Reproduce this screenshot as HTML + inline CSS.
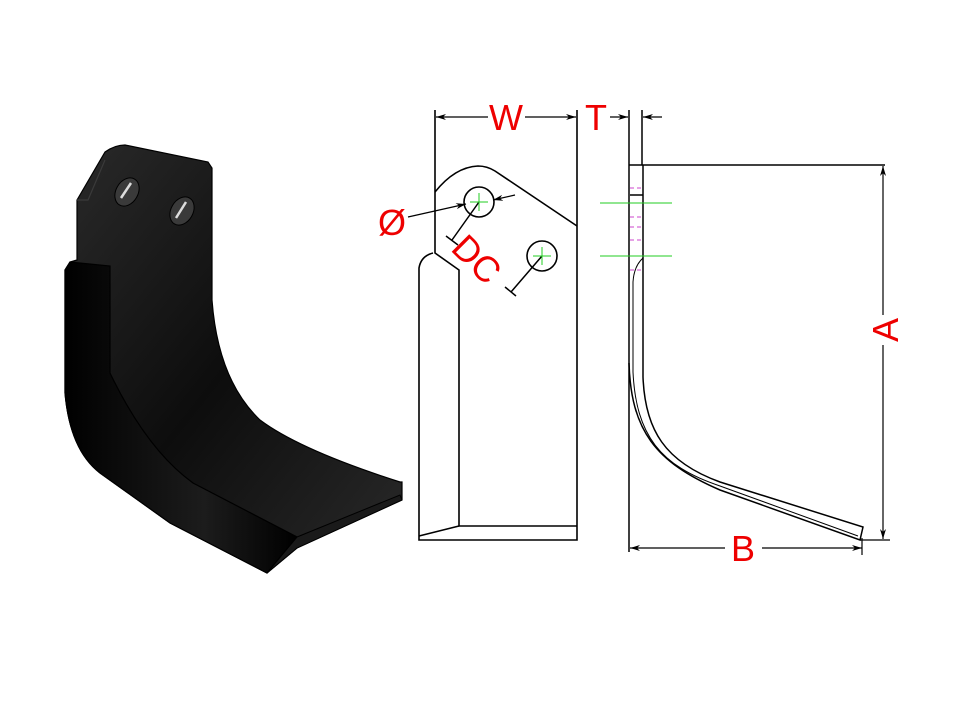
<!DOCTYPE html>
<html><head><meta charset="utf-8"><style>html,body{margin:0;padding:0;background:#fff}svg{display:block}</style></head><body>
<svg width="960" height="720" viewBox="0 0 960 720" xmlns="http://www.w3.org/2000/svg">
<defs>
<linearGradient id="g1" x1="0" y1="0" x2="1" y2="1"><stop offset="0" stop-color="#2a2a2a"/><stop offset="0.5" stop-color="#0d0d0d"/><stop offset="1" stop-color="#2a2a2a"/></linearGradient>
<linearGradient id="g2" x1="0" y1="0" x2="1" y2="0"><stop offset="0" stop-color="#000"/><stop offset="0.6" stop-color="#1c1c1c"/><stop offset="1" stop-color="#000"/></linearGradient>
<marker id="ar" markerWidth="10" markerHeight="6" refX="10" refY="3" orient="auto" markerUnits="userSpaceOnUse"><path d="M0,0 L10,3 L0,6 L3,3 Z" fill="#000"/></marker>
</defs>
<!-- 3D blade -->
<path d="M77,200 L105,152 Q115,145 125,145 L208,162 L212,168 L212,300 Q218,380 260,420 Q300,450 400,482 L402,482 L402,500 L297,548 L267,573 L170,523 L100,473 Q70,450 65,393 L65,270 L70,262 L77,260 Z" fill="url(#g1)" stroke="#000" stroke-width="1.2"/>
<path d="M65,270 L70,262 L110,266 L110,373 Q147,450 193,483 L297,537 L267,573 L170,523 L100,473 Q70,450 65,393 Z" fill="url(#g2)" stroke="#000" stroke-width="1.2"/>
<path d="M297,537 L400,495 L402,500 L297,548 L267,573 Z" fill="#1a1a1a" stroke="#000" stroke-width="1"/>
<path d="M77,200 L88,200 L105,160" fill="none" stroke="#3a3a3a" stroke-width="1.2"/>
<ellipse cx="127" cy="192" rx="11" ry="15" transform="rotate(30 127 192)" fill="#3a3a3a" stroke="#000"/>
<ellipse cx="182" cy="211" rx="11" ry="15" transform="rotate(30 182 211)" fill="#3a3a3a" stroke="#000"/>
<path d="M121,198 L131,183" stroke="#ddd" stroke-width="2.5"/>
<path d="M176,218 L186,202" stroke="#ddd" stroke-width="2.5"/>
<!-- Front view -->
<g fill="none" stroke="#000" stroke-width="1.6">
<path d="M435,110 L435,253 L459,270 L459,526 L577,526"/>
<path d="M435,192 Q455,167 478,166 Q487,166 495,171 L577,226"/>
<path d="M577,110 L577,540 L419,540 L419,268 Q421,256 433,253"/>
<path d="M419,536 L459,526"/>
<circle cx="479" cy="202" r="15"/>
<circle cx="542" cy="256" r="15"/>
<line x1="488" y1="117" x2="436" y2="117" marker-end="url(#ar)" stroke-width="1.2"/>
<line x1="525" y1="117" x2="576" y2="117" marker-end="url(#ar)" stroke-width="1.2"/>
<line x1="408" y1="217" x2="466" y2="204" marker-end="url(#ar)" stroke-width="1.2"/>
<line x1="515" y1="195" x2="493" y2="200" marker-end="url(#ar)" stroke-width="1.2"/>
<path d="M479,202 L452,240 M446,236 L458,245" stroke-width="1.5"/>
<path d="M542,256 L511,292 M505,287 L516,296" stroke-width="1.5"/>
</g>
<g stroke="#2c2" stroke-width="1">
<path d="M470,202 H488 M479,193 V211 M533,256 H551 M542,247 V265"/>
</g>
<!-- Side view -->
<g fill="none" stroke="#000" stroke-width="1.5">
<path d="M629,110 L629,552 M642,110 L642,165"/>
<path d="M629,165 L885,165"/>
<path d="M630,195 H643"/>
<path d="M643,165 L643,377 C645,430 665,462 720,482 L863,527 L860,540 L720,490 C655,462 631,430 629,363"/>
<path d="M633,372 C636,435 660,466 720,486 L858,536" stroke-width="1"/>
<path d="M643,258 Q634,266 633,282 L633,372" stroke-width="1"/>
<line x1="610" y1="117" x2="628" y2="117" marker-end="url(#ar)" stroke-width="1.2"/>
<line x1="662" y1="117" x2="643" y2="117" marker-end="url(#ar)" stroke-width="1.2"/>
<line x1="883" y1="315" x2="883" y2="166" marker-end="url(#ar)" stroke-width="1.2"/>
<line x1="883" y1="345" x2="883" y2="539" marker-end="url(#ar)" stroke-width="1.2"/>
<path d="M860,540 H890" stroke-width="1.2"/>
<line x1="725" y1="548" x2="630" y2="548" marker-end="url(#ar)" stroke-width="1.2"/>
<line x1="762" y1="548" x2="862" y2="548" marker-end="url(#ar)" stroke-width="1.2"/>
<path d="M862,538 V555" stroke-width="1.2"/>
</g>
<g stroke="#2c2" stroke-width="1"><path d="M600,203 H672 M600,256 H672"/></g>
<g stroke="#c4c" stroke-width="1" stroke-dasharray="4,3"><path d="M630,188 H643 M630,217 H643 M630,227 H643 M630,240 H643 M630,270 H643"/></g>
<!-- labels -->
<g fill="#e00" font-family="Liberation Sans, sans-serif" font-size="36">
<text x="506" y="130" text-anchor="middle">W</text>
<text x="596" y="130" text-anchor="middle">T</text>
<text x="392" y="235" text-anchor="middle">Ø</text>
<text x="743" y="561" text-anchor="middle">B</text>
<text transform="translate(898,330) rotate(-90)" text-anchor="middle">A</text>
<text transform="translate(468,268) rotate(45)" text-anchor="middle">DC</text>
</g>
</svg>
</body></html>
